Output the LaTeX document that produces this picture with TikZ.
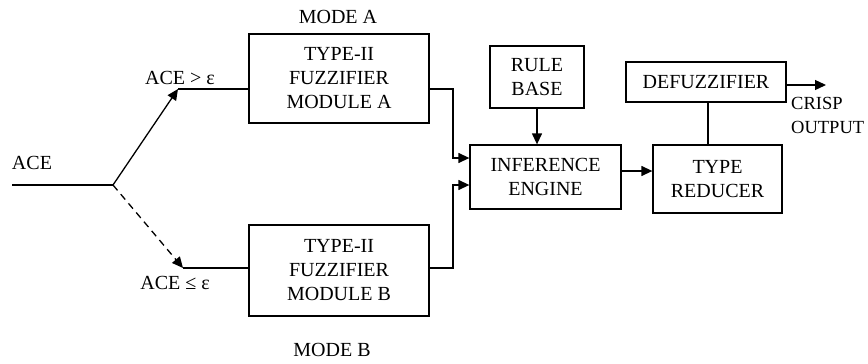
\documentclass[tikz,border=0pt]{standalone}
\usepackage{fontspec}
\setmainfont{Liberation Serif}
\usetikzlibrary{arrows.meta}

\begin{document}
\begin{tikzpicture}[
    x=1pt, y=-1pt,
    every node/.style={font=\fontsize{20}{24}\selectfont},
    block/.style={draw=black, line width=1.3pt, align=center, inner sep=0pt},
    link/.style={line width=1.3pt, -{Triangle[length=11pt,width=10pt]}},
    wire/.style={line width=1.3pt},
    ]
    \useasboundingbox (0,0) rectangle (868,364);
    % blocks
    \node[block, minimum width=180, minimum height=89] (modA) at (339,78.5) {TYPE-II\\FUZZIFIER\\MODULE A};
    \node[block, minimum width=180, minimum height=91] (modB) at (339,270.5) {TYPE-II\\FUZZIFIER\\MODULE B};
    \node[block, minimum width=94, minimum height=62] (rule) at (537,77) {RULE\\BASE};
    \node[block, minimum width=151, minimum height=64] (infer) at (545.5,177) {INFERENCE\\ENGINE};
    \node[block, minimum width=129, minimum height=68] (reducer) at (717.5,179) {TYPE\\REDUCER};
    \node[block, minimum width=160, minimum height=40] (defuzz) at (706,82) {DEFUZZIFIER};
    % labels
    \node (modeA) at (338,17) {MODE A};
    \node (modeB) at (332,350) {MODE B};
    \node (ace) at (32,163) {ACE};
    \node (gt) at (180,78) {ACE > ε};
    \node (le) at (175,283) {ACE ≤ ε};
    \node[align=left, anchor=west, inner sep=0pt, font=\fontsize{18.5}{24}\selectfont] (crisp) at (791,115) {CRISP\\OUTPUT};
    \coordinate (in) at (12,185);
    \coordinate (split) at (113,185);
    \coordinate (tipA) at (178,89);
    \coordinate (tipB) at (183,268);
    \coordinate (out) at (826,85);
    % connectors
    \draw[wire] (in) -- (split);
    \draw[link] (split) -- (tipA);
    \draw[link, dash pattern=on 7pt off 5pt] (split) -- (tipB);
    \draw[wire] (tipA) -- (modA.west |- tipA);
    \draw[wire] (tipB) -- (modB.west |- tipB);
    \draw[link] (modA.east |- tipA) -| (453,158) -- (infer.west |- 0,158);
    \draw[link] (modB.east |- tipB) -| (453,185) -- (infer.west |- 0,185);
    \draw[link] (rule.south) -- (infer.north -| rule.south);
    \draw[link] (infer.east |- 0,171) -- (reducer.west |- 0,171);
    \draw[wire] (reducer.north -| 708,0) -- (defuzz.south -| 708,0);
    \draw[link] (defuzz.east |- out) -- (out);
\end{tikzpicture}
\end{document}
